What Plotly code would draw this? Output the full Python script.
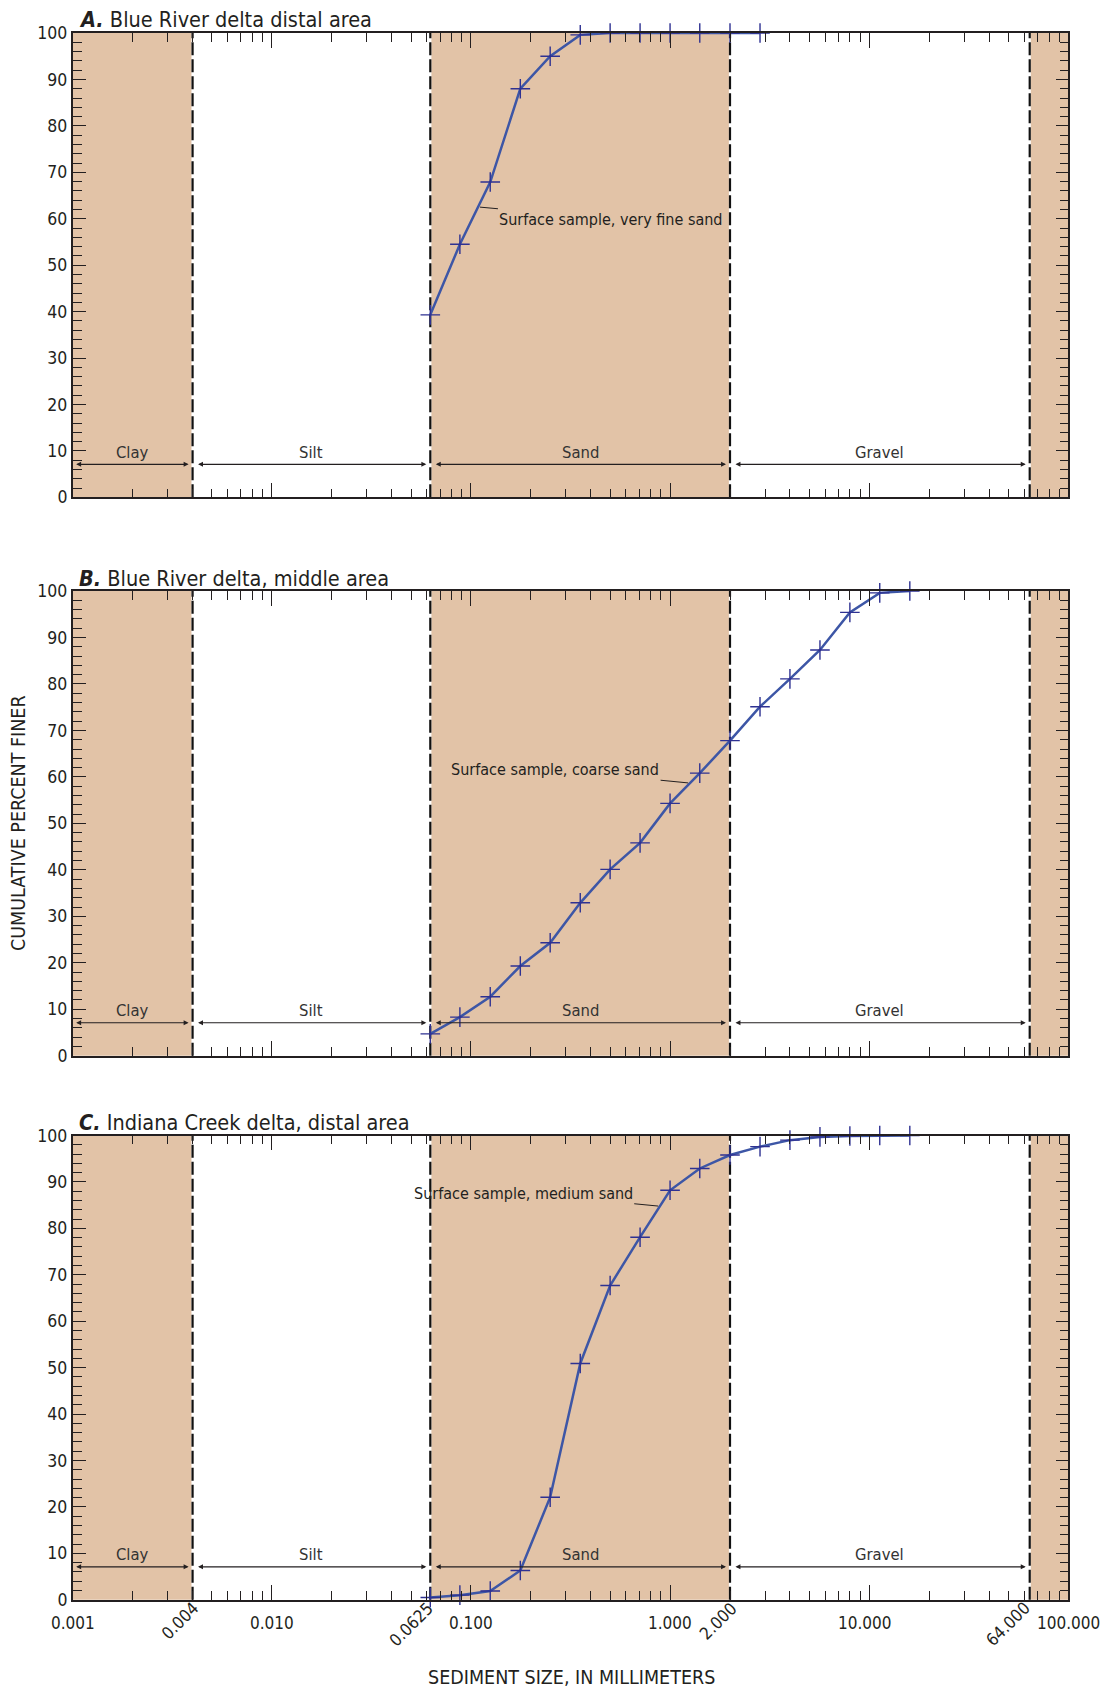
import math
import plotly.graph_objects as go

# ---------------- data ----------------
sizes_a = [0.0625, 0.088, 0.125, 0.177, 0.25, 0.354, 0.5, 0.707, 1.0, 1.41, 2.0, 2.83]
pct_a = [39.3, 54.5, 67.9, 88.0, 95.0, 99.6, 100, 100, 100, 100, 100, 100]

sizes_b = [0.0625, 0.088, 0.125, 0.177, 0.25, 0.354, 0.5, 0.707, 1.0, 1.41, 2.0, 2.83,
           4.0, 5.66, 8.0, 11.3, 16.0]
pct_b = [4.7, 8.3, 12.7, 19.3, 24.3, 32.9, 40.1, 45.8, 54.3, 60.8, 67.8, 75.1,
         81.1, 87.3, 95.4, 99.6, 100]

sizes_c = [0.0625, 0.088, 0.125, 0.177, 0.25, 0.354, 0.5, 0.707, 1.0, 1.41, 2.0, 2.83,
           4.0, 5.66, 8.0, 11.3, 16.0]
pct_c = [0.5, 1.0, 1.9, 6.3, 22.1, 50.9, 67.7, 78.1, 88.2, 92.9, 95.8, 97.6,
         99.0, 99.7, 99.9, 100, 100]

class_names = ["Clay", "Silt", "Sand", "Gravel"]
class_bounds = [0.001, 0.004, 0.0625, 2.0, 64.0, 100.0]
class_shaded = [True, False, True, False, True]

panel_letters = ["A.", "B.", "C."]
panel_titles = ["Blue River delta distal area", "Blue River delta, middle area",
                "Indiana Creek delta, distal area"]
sample_notes = ["Surface sample, very fine sand", "Surface sample, coarse sand",
                "Surface sample, medium sand"]
# point on each curve the leader line touches (size mm, percent)
note_points = [(0.111, 62.5), (1.232, 58.7), (0.872, 84.8)]
note_offsets = [(131, 12), (-133, -13), (-135, -13)]

x_tick_vals = [0.001, 0.004, 0.01, 0.0625, 0.1, 1.0, 2.0, 10.0, 64.0, 100.0]
x_tick_text = ["0.001", "0.004", "0.010", "0.0625", "0.100", "1.000", "2.000",
               "10.000", "64.000", "100.000"]
x_tick_rot = [False, True, False, True, False, False, True, False, True, False]
# pixel nudges for the tick labels (style only)
x_tick_dx = [0, -13, 0, -19, 0, 0, -12, -4, -22, 0]
x_tick_dy = [-23, -21, -23, -24, -23, -23, -21, -23, -24, -23]

# ---------------- style / layout ----------------
W, H = 1104, 1690
FONT = "'Liberation Sans Narrow', 'DejaVu Sans Condensed', 'Arial Narrow', 'Roboto Condensed', Roboto, sans-serif"
TAN = "#E2C3A7"
INK = "#231F20"
LINE_BLUE = "#3D56A6"
MARK_BLUE = "#2E3192"

X_L, X_R = 72.7, 1068.3
panel_px = [(33.0, 497.3), (591.0, 1055.7), (1135.5, 1599.8)]


def px_to_paper_y(py):
    return 1 - py / H


fig = go.Figure()
all_sizes = [sizes_a, sizes_b, sizes_c]
all_pct = [pct_a, pct_b, pct_c]

shapes = []
annotations = []

minor_x = [m * 10 ** e for e in range(-3, 2) for m in range(2, 10)]

for i in range(3):
    xa = "x" if i == 0 else f"x{i+1}"
    ya = "y" if i == 0 else f"y{i+1}"
    xkey = "xaxis" if i == 0 else f"xaxis{i+1}"
    ykey = "yaxis" if i == 0 else f"yaxis{i+1}"
    top, bot = panel_px[i]

    fig.add_trace(go.Scatter(
        x=all_sizes[i], y=all_pct[i], xaxis=xa, yaxis=ya,
        mode="lines+markers",
        line=dict(color=LINE_BLUE, width=2.5),
        marker=dict(symbol="cross-thin", size=14,
                    line=dict(color=MARK_BLUE, width=1.4)),
        cliponaxis=False, showlegend=False, hoverinfo="skip",
    ))

    fig.update_layout(**{
        xkey: dict(
            type="log", range=[-3, 2], automargin=False,
            domain=[X_L / W, X_R / W], anchor=ya,
            showline=True, linecolor=INK, linewidth=1.6, mirror="ticks",
            ticks="inside", ticklen=15, tickwidth=1.4, tickcolor=INK,
            tickvals=[0.001, 0.01, 0.1, 1, 10, 100],
            showticklabels=False, showgrid=False, zeroline=False,
            minor=dict(ticks="inside", ticklen=9, tickwidth=1.4, tickcolor=INK,
                       tickmode="array", tickvals=minor_x, showgrid=False),
            fixedrange=True,
        ),
        ykey: dict(
            range=[0, 100], automargin=False,
            domain=[px_to_paper_y(bot), px_to_paper_y(top)], anchor=xa,
            showline=True, linecolor=INK, linewidth=1.6, mirror="ticks",
            ticks="inside", ticklen=13, tickwidth=1.4, tickcolor=INK,
            tickmode="array", tickvals=list(range(0, 101, 10)),
            ticklabelstandoff=0,
            tickfont=dict(family=FONT, size=17.5, color=INK),
            showgrid=False, zeroline=False,
            minor=dict(ticks="inside", ticklen=9, tickwidth=1.4, tickcolor=INK,
                       dtick=2, showgrid=False),
            fixedrange=True,
        ),
    })

    # class shading
    for j, sh in enumerate(class_shaded):
        if sh:
            shapes.append(dict(type="rect", xref=xa, yref=f"{ya} domain",
                               x0=class_bounds[j], x1=class_bounds[j + 1], y0=0, y1=1,
                               fillcolor=TAN, line=dict(width=0), layer="below"))
    # dashed class boundaries
    for b in class_bounds[1:-1]:
        shapes.append(dict(type="line", xref=xa, yref=f"{ya} domain", x0=b, x1=b, y0=0, y1=1,
                           line=dict(color="white", width=2.2), layer="below"))
        shapes.append(dict(type="line", xref=xa, yref=f"{ya} domain", x0=b, x1=b, y0=0, y1=1,
                           line=dict(color="#111111", width=2.2, dash="13px,4px"), layer="below"))

    # class arrows and labels
    for j, name in enumerate(class_names):
        lo, hi = class_bounds[j], class_bounds[j + 1]
        annotations.append(dict(
            xref=xa, yref=ya, axref=xa, ayref=ya,
            x=math.log10(hi), y=7.1, ax=math.log10(lo), ay=7.1,
            text="", showarrow=True, arrowside="end+start", arrowhead=2,
            arrowsize=0.9, arrowwidth=1.1, arrowcolor=INK,
            standoff=4, startstandoff=4 if j > 0 else 2,
        ))
        annotations.append(dict(
            xref=xa, yref=ya, x=(math.log10(lo) + math.log10(hi)) / 2, y=9.7,
            text=name, showarrow=False, xanchor="center", yanchor="middle",
            font=dict(family=FONT, size=16.5, color="#333333"),
        ))

    # panel title
    annotations.append(dict(
        xref="paper", yref="paper", x=76.5 / W, y=px_to_paper_y(top - 13),
        text=f"<b><i>{panel_letters[i]}</i></b> {panel_titles[i]}",
        showarrow=False, xanchor="left", yanchor="middle",
        font=dict(family=FONT, size=21.5, color=INK),
    ))

    # sample note with leader line
    px_, py_ = note_points[i]
    axo, ayo = note_offsets[i]
    annotations.append(dict(
        xref=xa, yref=ya, x=math.log10(px_), y=py_, ax=axo, ay=ayo,
        text=sample_notes[i], showarrow=True, arrowhead=0, arrowwidth=1,
        arrowcolor=INK, font=dict(family=FONT, size=16, color=INK),
    ))

# x tick labels on bottom panel
for v, t, rot, dx, dy in zip(x_tick_vals, x_tick_text, x_tick_rot, x_tick_dx, x_tick_dy):
    annotations.append(dict(
        xref="x3", yref="y3 domain", x=math.log10(v), y=0,
        text=t, showarrow=False, textangle=-45 if rot else 0,
        xanchor="center", yanchor="middle", xshift=dx, yshift=dy,
        font=dict(family=FONT, size=17, color=INK),
    ))

# axis titles
annotations.append(dict(
    xref="paper", yref="paper", x=571 / W, y=px_to_paper_y(1677),
    text="SEDIMENT SIZE, IN MILLIMETERS", showarrow=False,
    xanchor="center", yanchor="middle", font=dict(family=FONT, size=19.5, color=INK),
))
annotations.append(dict(
    xref="paper", yref="paper", x=18 / W, y=px_to_paper_y(823),
    text="CUMULATIVE PERCENT FINER", showarrow=False, textangle=-90,
    xanchor="center", yanchor="middle", font=dict(family=FONT, size=19.5, color=INK),
))

fig.update_layout(
    width=W, height=H, autosize=False,
    margin=dict(l=0, r=0, t=0, b=0),
    paper_bgcolor="white", plot_bgcolor="white",
    shapes=shapes, annotations=annotations,
    font=dict(family=FONT, color=INK),
    showlegend=False,
)

fig.write_html("out.html")
